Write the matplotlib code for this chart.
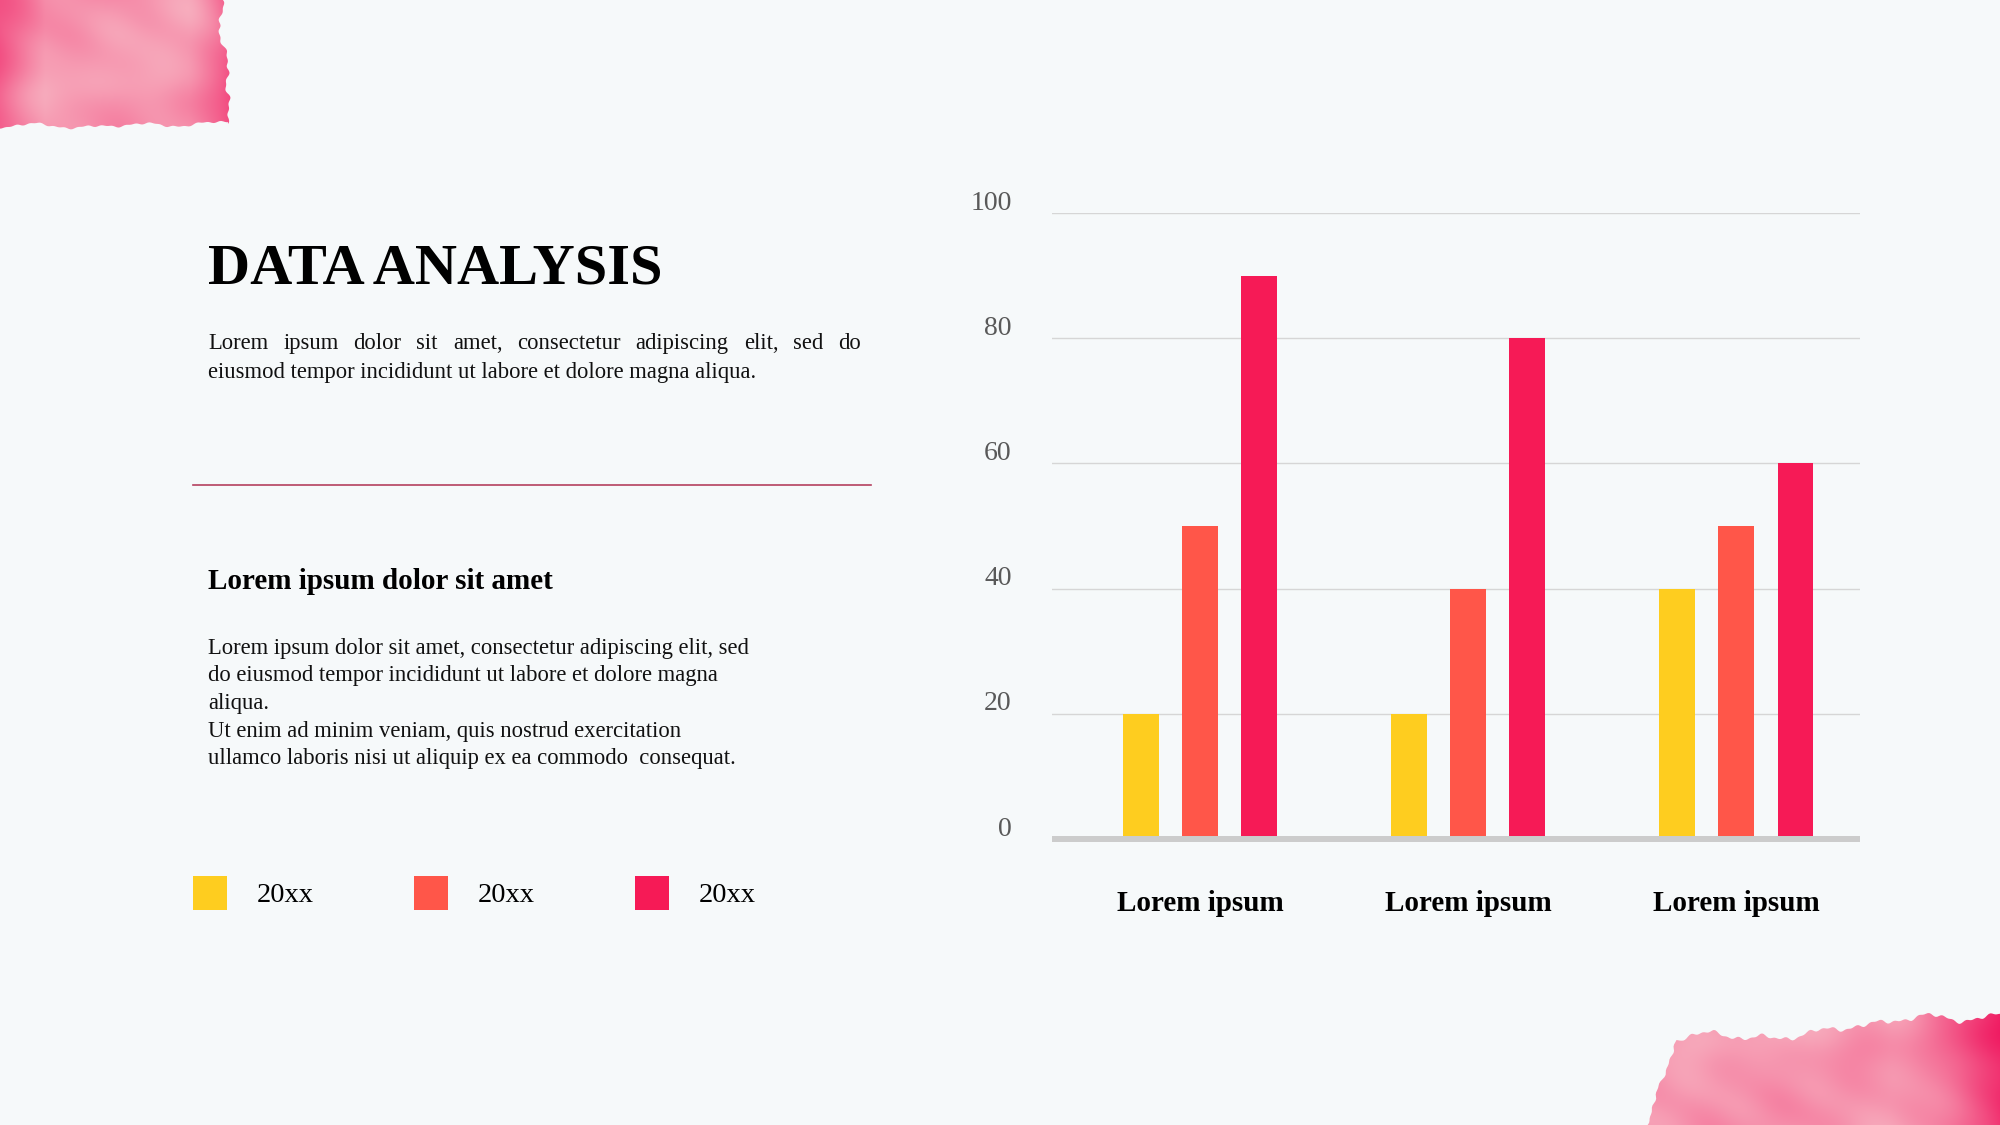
import numpy as np
import matplotlib.pyplot as plt
from matplotlib.patches import Polygon, Rectangle
from matplotlib.transforms import offset_copy

# chart data
categories = ['Lorem ipsum', 'Lorem ipsum', 'Lorem ipsum']
series_names = ['20xx', '20xx', '20xx']
values_a = [20, 20, 40]
values_b = [50, 40, 50]
values_c = [90, 80, 60]
y_ticks = [0, 20, 40, 60, 80, 100]

title = 'DATA ANALYSIS'
para1 = ['Lorem ipsum dolor sit amet, consectetur adipiscing elit, sed do',
         'eiusmod tempor incididunt ut labore et dolore magna aliqua.']
subtitle = 'Lorem ipsum dolor sit amet'
para2 = ['Lorem ipsum dolor sit amet, consectetur adipiscing elit, sed',
         'do eiusmod tempor incididunt ut labore et dolore magna',
         'aliqua.',
         'Ut enim ad minim veniam, quis nostrud exercitation',
         'ullamco laboris nisi ut aliquip ex ea commodo  consequat.']

colors = ['#fecd1f', '#ff5649', '#f61a56']
bg = '#f6f9fa'

plt.rcParams['font.family'] = ['Liberation Serif', 'DejaVu Serif']

fig = plt.figure(figsize=(20, 11.25), dpi=100, facecolor=bg)

# full-page axes in pixel units for the slide decoration and text
deco = fig.add_axes([0, 0, 1, 1])
deco.set_xlim(0, 2000)
deco.set_ylim(1125, 0)
deco.axis('off')


def ragged(t, amp=1.0):
    # irregular edge offset from a few incommensurate waves
    return amp * (1.4 * np.sin(t / 3.7) + 2.6 * np.sin(t / 8.9 + 1.3)
                  + 3.2 * np.sin(t / 17.3 + 0.4) + 2.0 * np.sin(t / 31.7 + 2.1)
                  + 1.1 * np.sin(t / 1.9 + 0.7))


def watercolor(pts, extent, dark_right=70, dark_left=0):
    x0, x1, y0, y1 = extent
    xx, yy = np.meshgrid(np.linspace(x0, x1, 400), np.linspace(y0, y1, 200))
    mottle = (0.5 * np.sin(xx / 29.0 + np.cos(yy / 19.0)) * np.cos(yy / 23.0 - xx / 47.0)
              + 0.3 * np.sin(xx / 53.0 + yy / 31.0 + 0.8)
              + 0.2 * np.sin(xx / 13.0 - yy / 27.0) * np.cos(yy / 17.0 + xx / 61.0))
    right = np.clip((xx - (x1 - dark_right)) / dark_right, 0, 1) if dark_right else 0
    left = np.clip(((x0 + dark_left) - xx) / max(dark_left, 1), 0, 1) if dark_left else 0
    w = np.clip(0.30 + 0.62 * right ** 1.5 + 0.3 * left + 0.14 * mottle, 0, 1)
    light = np.array([0.975, 0.80, 0.82])
    deep = np.array([0.94, 0.10, 0.38])
    img = light + (deep - light) * w[..., None]
    poly = Polygon(pts, closed=True, facecolor='none', edgecolor='none')
    deco.add_patch(poly)
    im = deco.imshow(img, extent=(x0, x1, y1, y0), origin='upper', aspect='auto',
                     interpolation='bilinear', zorder=1)
    im.set_clip_path(poly)


# top-left blob
ys = np.linspace(0, 124, 90)
right_edge = [(218 + 14 * np.clip((y - 30) / 40, 0, 1) - 8 * np.clip((y - 95) / 25, 0, 1)
               + 0.8 * ragged(y), y) for y in ys]
xs = np.linspace(228, 0, 140)
bottom_edge = [(x, 123 + 0.5 * ragged(x + 50) + 0.02 * (228 - x)) for x in xs]
watercolor([(0, 0)] + right_edge + bottom_edge, (0, 248, 0, 134), dark_right=60, dark_left=45)

# bottom-right blob
xs = np.linspace(1680, 2000, 200)
top_edge = [(x, 1040 - (x - 1680) * 0.085 + 0.9 * ragged(x)
             + 6 * np.clip(np.sin((x - 1760) / 30.0), 0, 1) * (x < 1880)) for x in xs]
ys2 = np.linspace(1040, 1125, 40)
left_edge = [(1680 - (y - 1040) * 0.42 + 0.6 * ragged(y), y) for y in ys2]
watercolor(left_edge[::-1] + top_edge + [(2000, 1125)], (1630, 2000, 995, 1125),
           dark_right=110)

# left column text
deco.text(208, 283, title, fontsize=42, fontweight='bold', va='baseline', color='black')

renderer = fig.canvas.get_renderer()


def justified(line, x0, x1, y, **kw):
    words = line.split()
    items = [deco.text(0, y, w, va='baseline', **kw) for w in words]
    widths = [t.get_window_extent(renderer).width for t in items]
    gap = (x1 - x0 - sum(widths)) / (len(words) - 1)
    pos = x0
    for t, wd in zip(items, widths):
        t.set_x(pos)
        pos += wd + gap


body = dict(fontsize=16.3, color='#111111')
justified(para1[0], 208, 861, 349, **body)
deco.text(208, 378, para1[1], va='baseline', **body)

deco.plot([193, 871], [485, 485], color='#b5415f', lw=1.2)

deco.text(208, 589, subtitle, fontsize=21, fontweight='bold', va='baseline', color='black')
for k, line in enumerate(para2):
    deco.text(208, 654 + k * 27.5, line, va='baseline', **body)

# legend
for k, (name, c) in enumerate(zip(series_names, colors)):
    x0 = 193 + k * 221
    deco.add_patch(Rectangle((x0, 876), 34, 34, facecolor=c, edgecolor='none'))
    deco.text(x0 + 64, 896, name, fontsize=20.5, va='center', color='black')

# bar chart
ax = fig.add_axes([0.526, 0.2542, 0.404, 0.5564])
ax.set_facecolor('none')
x = np.arange(len(categories))
bw = 0.133
off = 0.221
for i, (vals, c) in enumerate(zip([values_a, values_b, values_c], colors)):
    ax.bar(x + (i - 1) * off, vals, width=bw, color=c, zorder=2)

ax.set_xlim(-0.552, 2.462)
ax.set_ylim(0, 100)
ax.set_yticks(y_ticks)
ax.set_yticklabels([])
ax.set_xticks([])
ax.yaxis.grid(True, color='#d6d6d6', linewidth=1.0)
ax.set_axisbelow(True)
for s in ax.spines.values():
    s.set_visible(False)
ax.tick_params(axis='y', length=0)
ax.axhline(0, color='#cccccc', linewidth=4.3, zorder=3, solid_capstyle='butt',
           clip_on=False)

ytr = offset_copy(ax.get_yaxis_transform(), fig=fig, x=0, y=10, units='dots')
for v in y_ticks:
    ax.text(-0.05, v, str(v), transform=ytr, ha='right', va='center',
            fontsize=20, color='#595959')

for xi, lab in zip(x, categories):
    ax.text(xi, -0.1035, lab, transform=ax.get_xaxis_transform(), ha='center',
            va='center', fontsize=21, fontweight='bold', color='black')

fig.savefig('out.png', dpi=100, facecolor=bg)
